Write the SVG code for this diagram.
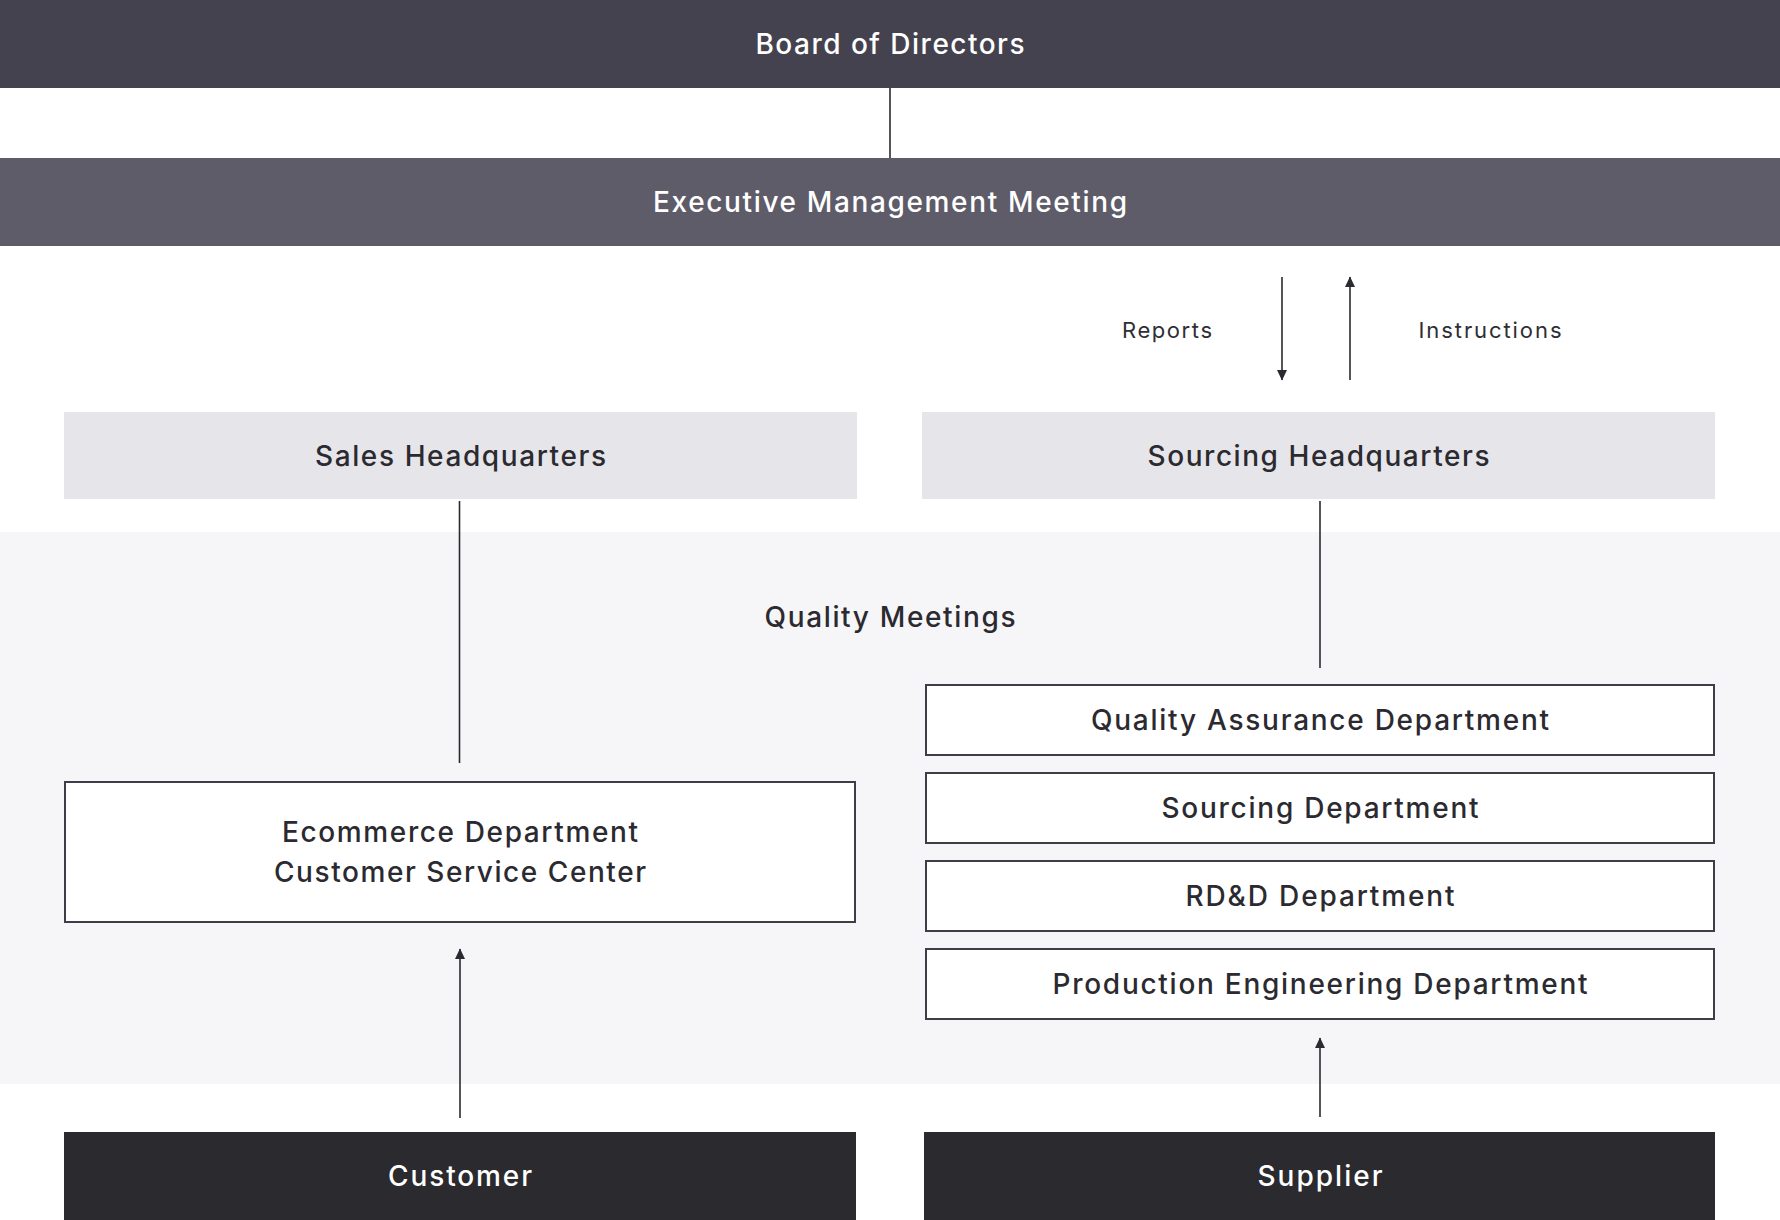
<svg xmlns="http://www.w3.org/2000/svg" width="1780" height="1220" viewBox="0 0 1780 1220">
<defs>
<style>
.t{font-family:Inter,"Liberation Sans",Arial,sans-serif;font-weight:500;font-size:28px;text-anchor:middle}
.w{fill:#ffffff}
.d{fill:#2b2a30}
.s{font-family:Inter,"Liberation Sans",Arial,sans-serif;font-weight:400;font-size:22px;text-anchor:middle;fill:#2f2e34}
.box{fill:#ffffff;stroke:#3e3d4a;stroke-width:2}
.ln{stroke:#2b2a30;stroke-width:1.6;fill:none}
</style>
<marker id="ah" markerUnits="userSpaceOnUse" markerWidth="11" markerHeight="11" refX="10" refY="5.5" orient="auto" viewBox="0 0 11 11">
<path d="M0,0.5 L10.5,5.5 L0,10.5 z" fill="#2b2a30"/>
</marker>
</defs>
<rect x="0" y="0" width="1780" height="1220" fill="#ffffff"/>
<rect id="quality-band" x="0" y="532" width="1780" height="552" fill="#f6f6f8"/>
<text class="t d" x="890" y="626.5" textLength="251" lengthAdjust="spacing">Quality Meetings</text>

<g id="connectors">
<line class="ln" x1="890" y1="88" x2="890" y2="158"/>
<line class="ln" x1="459.5" y1="501" x2="459.5" y2="763"/>
<line class="ln" x1="1320" y1="501" x2="1320" y2="668"/>
<line class="ln" x1="1282" y1="277" x2="1282" y2="380" marker-end="url(#ah)"/>
<line class="ln" x1="1350" y1="380" x2="1350" y2="277" marker-end="url(#ah)"/>
<line class="ln" x1="460" y1="1118" x2="460" y2="949" marker-end="url(#ah)"/>
<line class="ln" x1="1320" y1="1117" x2="1320" y2="1038" marker-end="url(#ah)"/>
<text class="s" x="1167" y="338" textLength="90" lengthAdjust="spacing">Reports</text>
<text class="s" x="1490" y="338" textLength="143" lengthAdjust="spacing">Instructions</text>
</g>

<g id="board">
<rect x="0" y="0" width="1780" height="88" fill="#45424f"/>
<text class="t w" x="890" y="54" textLength="269" lengthAdjust="spacing">Board of Directors</text>
</g>
<g id="exec">
<rect x="0" y="158" width="1780" height="88" fill="#5e5c68"/>
<text class="t w" x="890" y="212" textLength="474" lengthAdjust="spacing">Executive Management Meeting</text>
</g>
<g id="sales-hq">
<rect x="64" y="412" width="793" height="87" fill="#e5e5ea"/>
<text class="t d" x="460.5" y="466" textLength="291" lengthAdjust="spacing">Sales Headquarters</text>
</g>
<g id="sourcing-hq">
<rect x="922" y="412" width="793" height="87" fill="#e5e5ea"/>
<text class="t d" x="1318.5" y="466" textLength="342" lengthAdjust="spacing">Sourcing Headquarters</text>
</g>
<g id="ecommerce">
<rect class="box" x="65" y="782" width="790" height="140"/>
<text class="t d" x="460" y="842" textLength="356" lengthAdjust="spacing">Ecommerce Department</text>
<text class="t d" x="460" y="882" textLength="372" lengthAdjust="spacing">Customer Service Center</text>
</g>
<g id="qa">
<rect class="box" x="926" y="685" width="788" height="70"/>
<text class="t d" x="1320" y="729.5" textLength="458" lengthAdjust="spacing">Quality Assurance Department</text>
</g>
<g id="sourcing-dept">
<rect class="box" x="926" y="773" width="788" height="70"/>
<text class="t d" x="1320" y="817.5" textLength="317" lengthAdjust="spacing">Sourcing Department</text>
</g>
<g id="rdd">
<rect class="box" x="926" y="861" width="788" height="70"/>
<text class="t d" x="1320" y="905.5" textLength="269" lengthAdjust="spacing">RD&amp;D Department</text>
</g>
<g id="production">
<rect class="box" x="926" y="949" width="788" height="70"/>
<text class="t d" x="1320" y="993.5" textLength="535" lengthAdjust="spacing">Production Engineering Department</text>
</g>
<g id="customer">
<rect x="64" y="1132" width="792" height="88" fill="#2b2a2f"/>
<text class="t w" x="460" y="1186" textLength="144" lengthAdjust="spacing">Customer</text>
</g>
<g id="supplier">
<rect x="924" y="1132" width="791" height="88" fill="#2b2a2f"/>
<text class="t w" x="1320" y="1186" textLength="125" lengthAdjust="spacing">Supplier</text>
</g>
</svg>
